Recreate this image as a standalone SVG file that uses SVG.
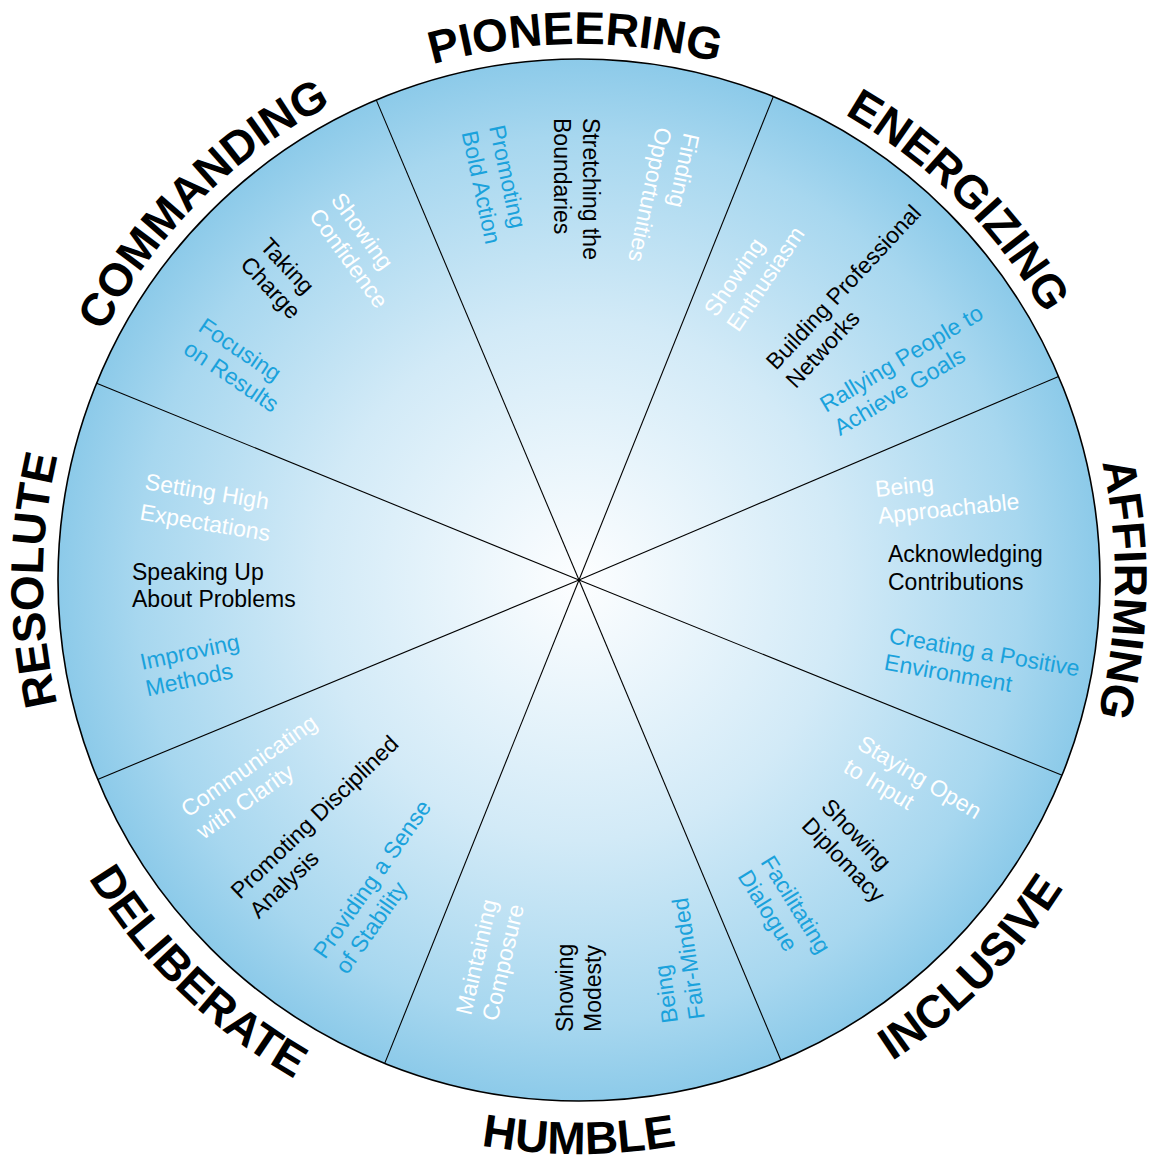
<svg xmlns="http://www.w3.org/2000/svg" xmlns:xlink="http://www.w3.org/1999/xlink" width="1151" height="1160" viewBox="0 0 1151 1160">
<style>
.lbl{font-family:"Liberation Sans",Arial,sans-serif;font-weight:bold;font-size:46px;fill:#000}
.t{font-family:"Liberation Sans",Arial,sans-serif;font-size:23px}
.w{fill:#ffffff}
.k{fill:#000000}
.c{fill:#1aa2dc}
.div{stroke:#000;stroke-width:1.1;fill:none}
</style>
<defs>
<radialGradient id="bg" cx="579" cy="580" r="521" gradientUnits="userSpaceOnUse">
<stop offset="0" stop-color="#fdfeff"/>
<stop offset="0.5" stop-color="#d2eaf7"/>
<stop offset="0.85" stop-color="#a7d7ef"/>
<stop offset="1" stop-color="#8ccae9"/>
</radialGradient>
<path id="topArc" d="M168.4,235.5 A536,536 0 0 1 989.6,235.5"/>
<path id="botArc" d="M139.3,949 A574,574 0 0 0 1018.7,949"/>
</defs>
<rect width="1151" height="1160" fill="#fff"/>
<circle id="wheel" cx="579" cy="580" r="521" fill="url(#bg)" stroke="#000" stroke-width="1.6"/>
<g id="connectors" class="div">
<line x1="579" y1="580" x2="1062.1" y2="775.2"/>
<line x1="579" y1="580" x2="780.9" y2="1060.3"/>
<line x1="579" y1="580" x2="384.7" y2="1063.4"/>
<line x1="579" y1="580" x2="97.6" y2="779.4"/>
<line x1="579" y1="580" x2="96.6" y2="383.2"/>
<line x1="579" y1="580" x2="376.3" y2="100.1"/>
<line x1="579" y1="580" x2="773.3" y2="96.6"/>
<line x1="579" y1="580" x2="1058.6" y2="376.4"/>
</g>
<g id="pioneering">
<text class="lbl" transform="rotate(-0.4 579 580)"><textPath xlink:href="#topArc" href="#topArc" startOffset="50%" text-anchor="middle">PIONEERING</textPath></text>
<text class="t c" transform="translate(489,127) rotate(78)"><tspan x="0" y="0">Promoting</tspan><tspan x="0" dy="28">Bold Action</tspan></text>
<text class="t k" transform="translate(583,118) rotate(90)"><tspan x="0" y="0">Stretching the</tspan><tspan x="0" dy="29">Boundaries</tspan></text>
<text class="t w" transform="translate(684,132) rotate(102)"><tspan x="0" y="0">Finding</tspan><tspan x="0" dy="28">Opportunities</tspan></text>
</g>
<g id="energizing">
<text class="lbl" transform="rotate(45 579 580)"><textPath xlink:href="#topArc" href="#topArc" startOffset="50%" text-anchor="middle">ENERGIZING</textPath></text>
<text class="t w" transform="translate(716,318) rotate(-56)"><tspan x="0" y="0">Showing</tspan><tspan x="0" dy="27">Enthusiasm</tspan></text>
<text class="t k" transform="translate(776,371) rotate(-47)"><tspan x="0" y="0">Building Professional</tspan><tspan x="0" dy="27">Networks</tspan></text>
<text class="t c" transform="translate(826,413) rotate(-31)"><tspan x="0" y="0">Rallying People to</tspan><tspan x="0" dy="27">Achieve Goals</tspan></text>
</g>
<g id="affirming">
<text class="lbl" transform="rotate(91 579 580)"><textPath xlink:href="#topArc" href="#topArc" startOffset="50%" text-anchor="middle">AFFIRMING</textPath></text>
<text class="t w" transform="translate(876,497) rotate(-6)"><tspan x="0" y="0">Being</tspan><tspan x="0" dy="27">Approachable</tspan></text>
<text class="t k" transform="translate(888,562)"><tspan x="0" y="0">Acknowledging</tspan><tspan x="0" dy="28">Contributions</tspan></text>
<text class="t c" transform="translate(888,643) rotate(10)"><tspan x="0" y="0">Creating a Positive</tspan><tspan x="0" dy="27">Environment</tspan></text>
</g>
<g id="inclusive">
<text class="lbl" transform="rotate(-45.3 579 580)"><textPath xlink:href="#botArc" href="#botArc" startOffset="50%" text-anchor="middle">INCLUSIVE</textPath></text>
<text class="t w" transform="translate(856,748) rotate(31)"><tspan x="0" y="0">Staying Open</tspan><tspan x="0" dy="27">to Input</tspan></text>
<text class="t k" transform="translate(820,808) rotate(46)"><tspan x="0" y="0">Showing</tspan><tspan x="0" dy="27">Diplomacy</tspan></text>
<text class="t c" transform="translate(760,862) rotate(58)"><tspan x="0" y="0">Facilitating</tspan><tspan x="0" dy="27">Dialogue</tspan></text>
</g>
<g id="humble">
<text class="lbl" transform="rotate(0 579 580)"><textPath xlink:href="#botArc" href="#botArc" startOffset="50%" text-anchor="middle">HUMBLE</textPath></text>
<text class="t w" transform="translate(471,1016) rotate(-77)"><tspan x="0" y="0">Maintaining</tspan><tspan x="0" dy="27">Composure</tspan></text>
<text class="t k" transform="translate(573,1032) rotate(-90)"><tspan x="0" y="0">Showing</tspan><tspan x="0" dy="28">Modesty</tspan></text>
<text class="t c" transform="translate(678,1022) rotate(-98)"><tspan x="0" y="0">Being</tspan><tspan x="0" dy="27">Fair-Minded</tspan></text>
</g>
<g id="deliberate">
<text class="lbl" transform="rotate(44.2 579 580)"><textPath xlink:href="#botArc" href="#botArc" startOffset="50%" text-anchor="middle">DELIBERATE</textPath></text>
<text class="t w" transform="translate(188,818) rotate(-35)"><tspan x="0" y="0">Communicating</tspan><tspan x="0" dy="27">with Clarity</tspan></text>
<text class="t k" transform="translate(240,900) rotate(-44)"><tspan x="0" y="0">Promoting Disciplined</tspan><tspan x="0" dy="27">Analysis</tspan></text>
<text class="t c" transform="translate(325,960) rotate(-55)"><tspan x="0" y="0">Providing a Sense</tspan><tspan x="0" dy="27">of Stability</tspan></text>
</g>
<g id="resolute">
<text class="lbl" transform="rotate(-90 579 580)"><textPath xlink:href="#topArc" href="#topArc" startOffset="50%" text-anchor="middle">RESOLUTE</textPath></text>
<text class="t w" transform="translate(144,489) rotate(9.5)"><tspan x="0" y="0">Setting High</tspan><tspan x="0" dy="31">Expectations</tspan></text>
<text class="t k" transform="translate(132,580)"><tspan x="0" y="0">Speaking Up</tspan><tspan x="0" dy="27">About Problems</tspan></text>
<text class="t c" transform="translate(142,670) rotate(-12)"><tspan x="0" y="0">Improving</tspan><tspan x="0" dy="27">Methods</tspan></text>
</g>
<g id="commanding">
<text class="lbl" transform="rotate(-45 579 580)"><textPath xlink:href="#topArc" href="#topArc" startOffset="50%" text-anchor="middle">COMMANDING</textPath></text>
<text class="t w" transform="translate(330,200) rotate(54)"><tspan x="0" y="0">Showing</tspan><tspan x="0" dy="27">Confidence</tspan></text>
<text class="t k" transform="translate(259,247) rotate(47)"><tspan x="0" y="0">Taking</tspan><tspan x="0" dy="27">Charge</tspan></text>
<text class="t c" transform="translate(197,330) rotate(34)"><tspan x="0" y="0">Focusing</tspan><tspan x="0" dy="27">on Results</tspan></text>
</g>
</svg>
